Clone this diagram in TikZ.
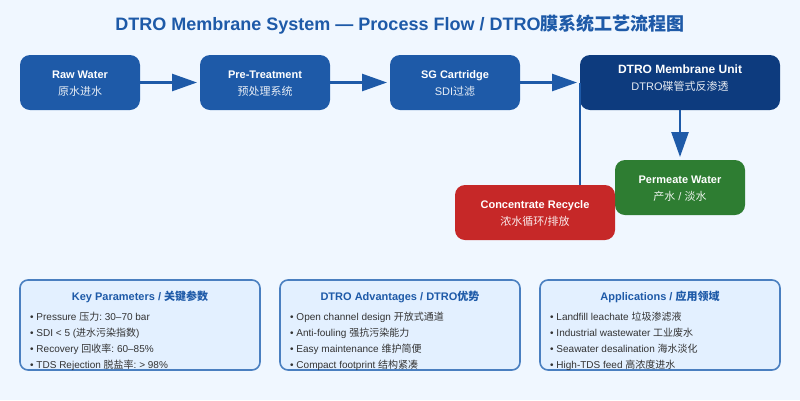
\documentclass[tikz,border=0pt]{standalone}
\usepackage{fontspec}
\setmainfont{Liberation Sans}
\newfontfamily\cjkfam{Noto Sans CJK SC}
\newcommand{\zh}[1]{{\cjkfam #1}}
\usetikzlibrary{arrows.meta}
\definecolor{pagebg}{HTML}{F0F7FF}
\definecolor{flowblue}{HTML}{1E5AA8}
\definecolor{deepblue}{HTML}{0D3B7E}
\definecolor{okgreen}{HTML}{2E7D32}
\definecolor{alertred}{HTML}{C62828}
\definecolor{panelfill}{HTML}{E3F0FF}
\definecolor{panelline}{HTML}{4A7FC0}
\definecolor{bodytext}{HTML}{333333}
\tikzset{
  x=1pt,y=-1pt,
  procbox/.style={rounded corners=10pt,inner sep=0pt,minimum height=55pt,outer sep=0pt},
  headtext/.style={text=white,font=\fontsize{11}{13}\selectfont\bfseries,anchor=base,inner sep=0pt},
  subtext/.style={text=white,text opacity=.9,font=\fontsize{11}{13}\selectfont,anchor=base,inner sep=0pt},
  flow/.style={draw=flowblue,line width=2.5pt,-{Triangle[length=25pt,width=17pt]},shorten >=3pt},
  plainflow/.style={draw=flowblue,line width=2.5pt},
  panelbox/.style={draw=panelline,fill=panelfill,line width=1.6pt,rounded corners=8pt,minimum width=240pt,minimum height=90pt,inner sep=0pt,outer sep=0pt},
  paneltitle/.style={text=flowblue,font=\fontsize{11}{13}\selectfont\bfseries,anchor=base,inner sep=0pt},
  paneltext/.style={text=bodytext,font=\fontsize{10}{12}\selectfont\frenchspacing,anchor=base west,inner sep=0pt},
}
\begin{document}
\begin{tikzpicture}
\useasboundingbox[fill=pagebg] (0,0) rectangle (800,400);
\node[text=flowblue,font=\fontsize{18}{22}\selectfont\bfseries,anchor=base,inner sep=0pt] (title) at (400,30) {DTRO Membrane System — Process Flow / DTRO\zh{膜系统工艺流程图}};

\node[procbox,fill=flowblue,minimum width=120pt] (raw) at (80,82.5) {};
\node[procbox,fill=flowblue,minimum width=130pt] (pre) at (265,82.5) {};
\node[procbox,fill=flowblue,minimum width=130pt] (sg) at (455,82.5) {};
\node[procbox,fill=deepblue,minimum width=200pt] (dtro) at (680,82.5) {};
\node[procbox,fill=okgreen,minimum width=130pt] (perm) at (680,187.5) {};
\node[procbox,fill=alertred,minimum width=160pt] (conc) at (535,212.5) {};

\node[headtext] (rawa) at (80,78) {Raw Water};
\node[subtext] (rawb) at (80,95) {\zh{原水进水}};
\node[headtext] (prea) at (265,78) {Pre-Treatment};
\node[subtext] (preb) at (265,95) {\zh{预处理系统}};
\node[headtext] (sga) at (455,78) {SG Cartridge};
\node[subtext] (sgb) at (455,95) {SDI\zh{过滤}};
\node[headtext,font=\fontsize{12}{15}\selectfont\bfseries] (dtroa) at (680,73) {DTRO Membrane Unit};
\node[subtext] (dtrob) at (680,90) {DTRO\zh{碟管式反渗透}};
\node[headtext] (perma) at (680,183) {Permeate Water};
\node[subtext] (permb) at (680,200) {\zh{产水} / \zh{淡水}};
\node[headtext] (conca) at (535,208) {Concentrate Recycle};
\node[subtext] (concb) at (535,225) {\zh{浓水循环}/\zh{排放}};

\draw[flow] (raw.east) -- (pre.west);
\draw[flow] (pre.east) -- (sg.west);
\draw[flow] (sg.east) -- (dtro.west);
\draw[flow] (dtro.south) -- (perm.north);
\draw[plainflow] (dtro.west |- conc.north) -- (dtro.west);

\node[panelbox] (p1) at (140,325) {};
\node[panelbox] (p2) at (400,325) {};
\node[panelbox] (p3) at (660,325) {};

\node[paneltitle] (p1t) at (140,300) {Key Parameters / \zh{关键参数}};
\node[paneltext] (p1a) at (30,320) {• Pressure \zh{压力}: 30–70 bar};
\node[paneltext] (p1b) at (30,336) {• SDI < 5 (\zh{进水污染指数})};
\node[paneltext] (p1c) at (30,352) {• Recovery \zh{回收率}: 60–85\%};
\node[paneltext] (p1d) at (30,368) {• TDS Rejection \zh{脱盐率}: > 98\%};

\node[paneltitle] (p2t) at (400,300) {DTRO Advantages / DTRO\zh{优势}};
\node[paneltext] (p2a) at (290,320) {• Open channel design \zh{开放式通道}};
\node[paneltext] (p2b) at (290,336) {• Anti-fouling \zh{强抗污染能力}};
\node[paneltext] (p2c) at (290,352) {• Easy maintenance \zh{维护简便}};
\node[paneltext] (p2d) at (290,368) {• Compact footprint \zh{结构紧凑}};

\node[paneltitle] (p3t) at (660,300) {Applications / \zh{应用领域}};
\node[paneltext] (p3a) at (550,320) {• Landfill leachate \zh{垃圾渗滤液}};
\node[paneltext] (p3b) at (550,336) {• Industrial wastewater \zh{工业废水}};
\node[paneltext] (p3c) at (550,352) {• Seawater desalination \zh{海水淡化}};
\node[paneltext] (p3d) at (550,368) {• High-TDS feed \zh{高浓度进水}};
\end{tikzpicture}
\end{document}
